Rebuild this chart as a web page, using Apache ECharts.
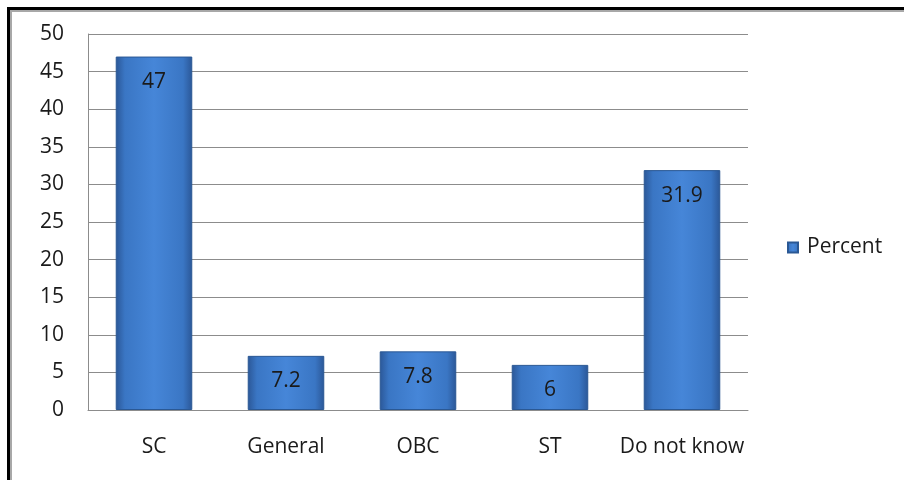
<!DOCTYPE html>
<html>
<head>
<meta charset="utf-8">
<script src="https://cdn.jsdelivr.net/npm/echarts@6/dist/echarts.min.js"></script>
<style>
  html, body { margin: 0; padding: 0; background: #fff; }
  #frame {
    position: absolute; left: 7px; top: 7px; width: 900px; height: 471px;
    border-top: 3px solid #000; border-left: 3px solid #000;
    border-bottom: 1px solid #e6e6e6;
    box-shadow: inset 2px 2px 0 #a8a8a8;
  }
  #chart { position: absolute; left: 0; top: 0; width: 904px; height: 480px; }
</style>
</head>
<body>
<div id="frame"></div>
<div id="chart"></div>
<script>
// categories and values
const categories = ['SC', 'General', 'OBC', 'ST', 'Do not know']
const percentValues = [47, 7.2, 7.8, 6, 31.9]
const seriesName = 'Percent'

const chart = echarts.init(document.getElementById('chart'), null, { renderer: 'canvas' })

// bar fill, darker at both sides
const barFill = new echarts.graphic.LinearGradient(0, 0, 1, 0, [
  { offset: 0, color: '#2b5797' },
  { offset: 0.12, color: '#3a76c4' },
  { offset: 0.5, color: '#4686d8' },
  { offset: 0.88, color: '#3a76c4' },
  { offset: 1, color: '#2b5797' }
])

const option = {
  backgroundColor: 'transparent',
  animation: false,
  textStyle: { fontFamily: 'Open Sans' },
  grid: {
    left: 88,
    right: 156,
    top: 34,
    bottom: 70
  },
  legend: {
    data: [seriesName],
    orient: 'vertical',
    left: 782,
    top: 232,
    itemWidth: 10,
    itemHeight: 10,
    icon: 'rect',
    selectedMode: false,
    textStyle: { color: '#1a1a1a', fontSize: 21, fontFamily: 'Open Sans', padding: [0, 0, 0, 4] }
  },
  xAxis: {
    type: 'category',
    data: categories,
    axisTick: { show: false },
    axisLine: { show: true, lineStyle: { color: '#8c8c8c', width: 1 } },
    axisLabel: {
      color: '#1a1a1a',
      fontSize: 21,
      margin: 27,
      interval: 0,
      fontFamily: 'Open Sans'
    }
  },
  yAxis: {
    type: 'value',
    min: 0,
    max: 50,
    interval: 5,
    axisLine: { show: true, lineStyle: { color: '#8c8c8c', width: 1 } },
    axisTick: { show: false },
    axisLabel: {
      color: '#1a1a1a',
      fontSize: 21,
      margin: 24,
      fontFamily: 'Open Sans'
    },
    splitLine: { show: true, lineStyle: { color: '#8c8c8c', width: 1 } }
  },
  series: [
    {
      name: seriesName,
      type: 'bar',
      data: percentValues,
      barWidth: '58%',
      itemStyle: {
        color: barFill,
        borderColor: '#2a5894',
        borderWidth: 1
      },
      label: {
        show: true,
        position: 'insideTop',
        distance: 15,
        color: '#1a1a1a',
        fontSize: 21,
        fontFamily: 'Open Sans'
      }
    }
  ]
}

chart.setOption(option)
</script>
</body>
</html>
